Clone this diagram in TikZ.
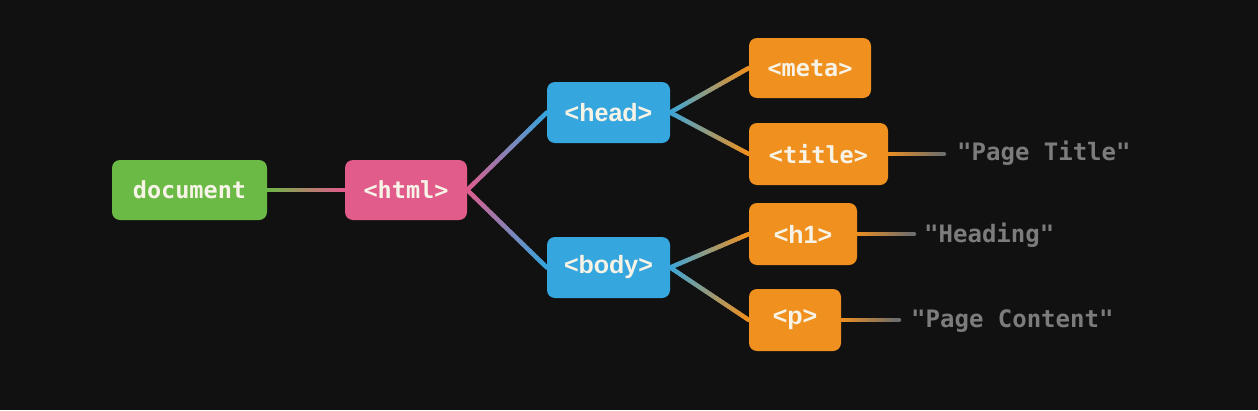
\documentclass[tikz,border=0pt]{standalone}
\usepackage{fontspec}
\usetikzlibrary{calc}
\newfontfamily\codefont{DejaVu Sans Mono}
\newfontfamily\tagfont{Liberation Sans}
\definecolor{bg}{HTML}{111111}
\definecolor{cgreen}{HTML}{6BBA45}
\definecolor{cpink}{HTML}{E15B8B}
\definecolor{cblue}{HTML}{36A6DE}
\definecolor{corange}{HTML}{F0901E}
\definecolor{cgray}{HTML}{6E6E6E}
\definecolor{cgrayt}{HTML}{7C7C7C}
\definecolor{ctxt}{HTML}{F7F3E6}
\pgfdeclarelayer{bgl}
\pgfdeclarelayer{edges}
\pgfsetlayers{bgl,edges,main}
\tikzset{
  box/.style={rounded corners=8pt, inner sep=0pt, text=ctxt, font=\fontsize{23}{28}\selectfont\bfseries},
  mono/.style={font=\codefont\fontsize{23.5}{28}\selectfont\bfseries},
  sans/.style={font=\tagfont\fontsize{25}{30}\selectfont\bfseries},
  leaf/.style={text=cgrayt, anchor=west, inner sep=0pt, font=\codefont\fontsize{24}{28}\selectfont\bfseries},
  conn/.style={line width=4.5pt, line cap=round}
}
\newcommand\gline[4]{%
  \foreach \i in {0,...,23}{%
    \pgfmathsetmacro\pa{\i/24}%
    \pgfmathsetmacro\pb{(\i+1)/24}%
    \pgfmathtruncatemacro\pc{100-(\i+0.5)*100/24}%
    \draw[conn, draw=#3!\pc!#4] ($(#1)!\pa!(#2)$) -- ($(#1)!\pb!(#2)$);
  }%
}
\begin{document}
\begin{tikzpicture}[x=1pt,y=-1pt]
\begin{pgfonlayer}{bgl}
\fill[bg] (0,0) rectangle (1258,410);
\end{pgfonlayer}
\useasboundingbox (0,0) rectangle (1258,410);

\node[box, mono, fill=cgreen, minimum width=155pt, minimum height=60pt] (doc) at (189.5,190) {document};
\node[box, mono, fill=cpink, minimum width=122pt, minimum height=60pt] (html) at (406,190) {<html>};
\node[box, sans, fill=cblue, minimum width=123pt, minimum height=61pt] (head) at (608.5,112.5) {<head>};
\node[box, sans, fill=cblue, minimum width=123pt, minimum height=61pt] (body) at (608.5,267.5) {<body>};
\node[box, mono, fill=corange, minimum width=122pt, minimum height=60pt] (meta) at (810,68) {<meta>};
\node[box, mono, fill=corange, minimum width=139pt, minimum height=62pt] (title) at (818.5,154) {<title>};
\node[box, sans, fill=corange, minimum width=108pt, minimum height=62pt] (h1) at (803,234) {<h1>};
\node[box, sans, fill=corange, minimum width=92pt, minimum height=62pt] (p) at (795,320) {<p>};

\coordinate (et) at (title.east -| 944,0);
\coordinate (eh) at (h1.east -| 914,0);
\coordinate (ep) at (p.east -| 899,0);

\node[leaf] (tt) at (957,153) {"Page Title"};
\node[leaf] (th) at (924,235) {"Heading"};
\node[leaf] (tp) at (911,321) {"Page Content"};

\begin{pgfonlayer}{edges}
\gline{doc.east}{html.west}{cgreen}{cpink}
\gline{html.east}{head.west}{cpink}{cblue}
\gline{html.east}{body.west}{cpink}{cblue}
\gline{head.east}{meta.west}{cblue}{corange}
\gline{head.east}{title.west}{cblue}{corange}
\gline{body.east}{h1.west}{cblue}{corange}
\gline{body.east}{p.west}{cblue}{corange}
\gline{title.east}{et}{corange}{cgray}
\gline{h1.east}{eh}{corange}{cgray}
\gline{p.east}{ep}{corange}{cgray}
\end{pgfonlayer}
\end{tikzpicture}
\end{document}
